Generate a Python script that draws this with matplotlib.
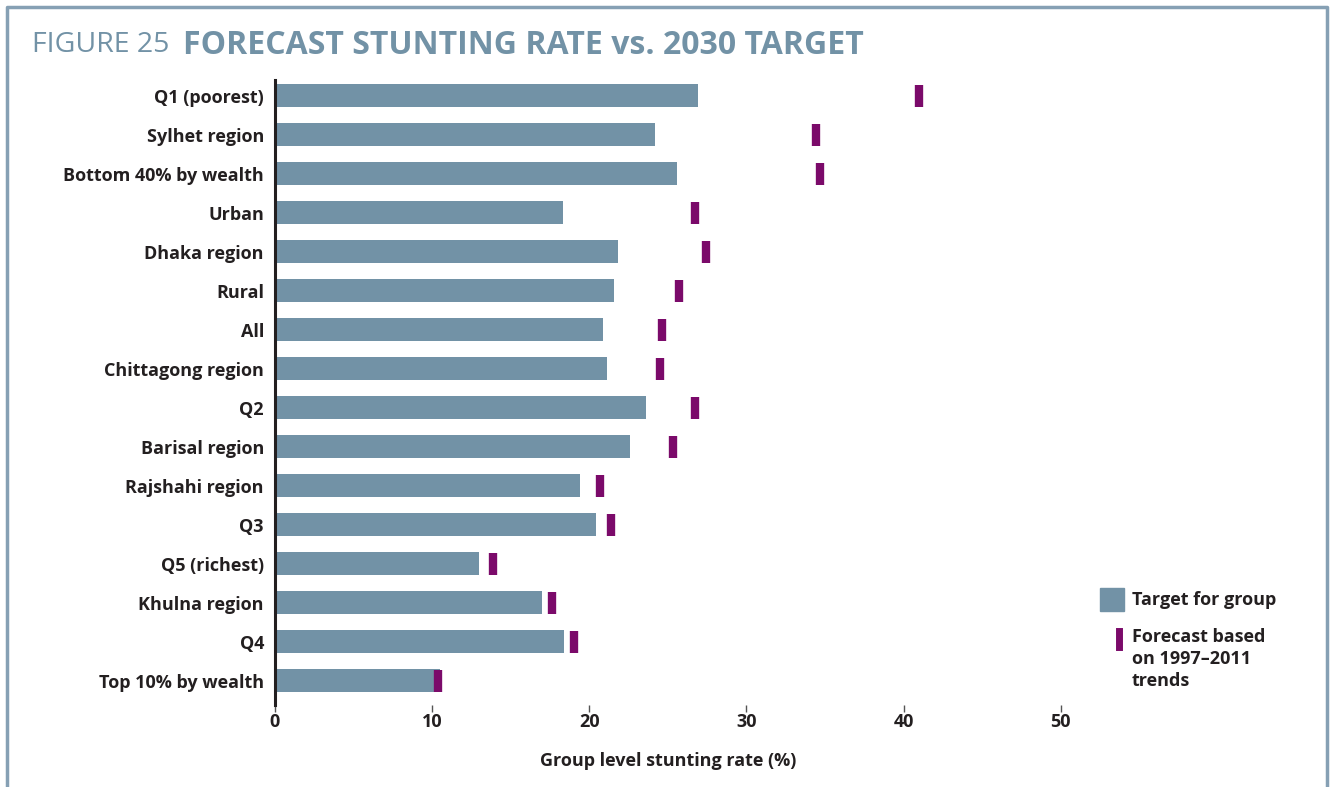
import matplotlib.pyplot as plt
from matplotlib.patches import Rectangle
from matplotlib.lines import Line2D

# data (top to bottom)
groups = ["Q1 (poorest)", "Sylhet region", "Bottom 40% by wealth", "Urban", "Dhaka region",
          "Rural", "All", "Chittagong region", "Q2", "Barisal region", "Rajshahi region",
          "Q3", "Q5 (richest)", "Khulna region", "Q4", "Top 10% by wealth"]
target = [26.9, 24.2, 25.6, 18.3, 21.8, 21.6, 20.9, 21.1, 23.6, 22.6, 19.4, 20.4, 13.0, 17.0, 18.4, 10.5]
forecast = [41.0, 34.4, 34.7, 26.7, 27.4, 25.7, 24.6, 24.5, 26.7, 25.3, 20.7, 21.4, 13.9, 17.6, 19.0, 10.35]
xticks = [0, 10, 20, 30, 40, 50]

bar_col = "#7292a6"
mark_col = "#7b0a6a"
text_col = "#231f20"

plt.rcParams['font.family'] = ['Open Sans', 'DejaVu Sans']

fig = plt.figure(figsize=(13.3, 7.87), dpi=100)
ax = fig.add_axes([275/1330, 1-705/787, (1100-275)/1330, (705-80)/787])

y = list(range(len(groups)))
ax.barh(y, target, height=0.59, color=bar_col, zorder=1)
ax.scatter(forecast, y, marker="|", s=260, linewidths=6, color=mark_col, zorder=2)

ax.set_ylim(15.62, -0.41)
ax.set_xlim(0, 52.5)
ax.set_yticks(y)
ax.set_yticklabels(groups, fontsize=13, fontweight="bold", color=text_col)
ax.set_xticks(xticks)
ax.set_xticklabels([str(t) for t in xticks], fontsize=13, fontweight="bold", color=text_col)
ax.tick_params(axis="y", length=0, pad=8)
ax.tick_params(axis="x", length=5, width=1, color="#555555", pad=1)
for s in ["top", "right", "bottom"]:
    ax.spines[s].set_visible(False)
ax.spines["left"].set_linewidth(2.2)
ax.spines["left"].set_color(text_col)
ax.set_xlabel("Group level stunting rate (%)", fontsize=13, fontweight="bold", color=text_col)
ax.xaxis.set_label_coords((668-275)/(1100-275), -0.075)

# title
fig.text(32/1330, 1-45/787, "FIGURE 25", fontsize=20.5, color=bar_col, va="center")
fig.text(183/1330, 1-45/787, "FORECAST STUNTING RATE vs. 2030 TARGET", fontsize=23,
         fontweight="bold", color=bar_col, va="center")

# legend
fig.patches.append(Rectangle((1100/1330, 1-611/787), 24/1330, 23/787,
                             transform=fig.transFigure, color=bar_col))
fig.text(1132/1330, 1-600/787, "Target for group", fontsize=13, fontweight="bold",
         color=text_col, va="center")
fig.lines.append(Line2D([1119/1330, 1119/1330], [1-631/787, 1-647/787],
                        transform=fig.transFigure, color=mark_col, linewidth=5))
fig.text(1132/1330, 1-628/787, "Forecast based\non 1997\u20132011\ntrends", fontsize=13,
         fontweight="bold", color=text_col, va="top", linespacing=1.3)

# frame
frame_col = "#86a0b4"
fig.lines.append(Line2D([7/1330, 7/1330, 1327/1330, 1327/1330], [0, 1-7/787, 1-7/787, 0],
                        transform=fig.transFigure, color=frame_col, linewidth=2.5))

fig.savefig("out.png", dpi=100)
